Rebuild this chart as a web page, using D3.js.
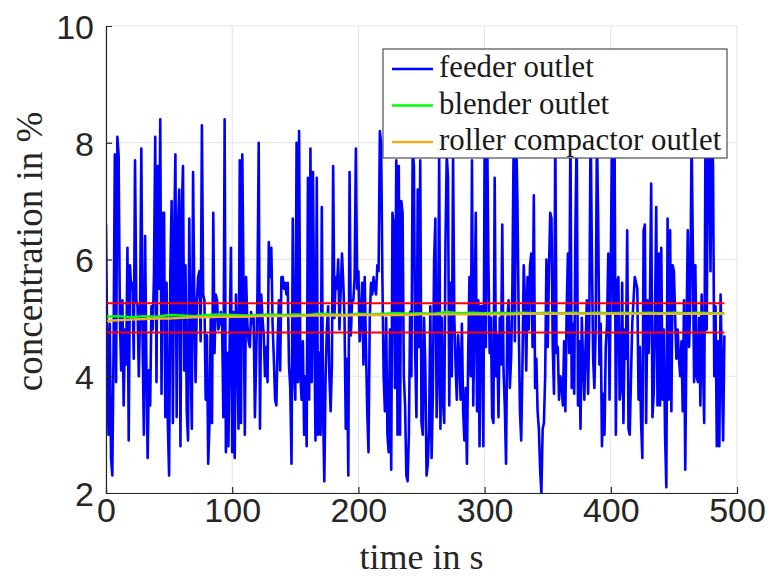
<!DOCTYPE html>
<html>
<head>
<meta charset="utf-8">
<script src="https://cdn.jsdelivr.net/npm/d3@7"></script>
<style>
  html, body { margin: 0; padding: 0; background: #fff; }
  svg { display: block; }
</style>
</head>
<body>
<svg id="chart" width="770" height="580"></svg>
<script>
// Feeder outlet concentration, one sample per second (t = 0 … 490 s), in %
const feederOutlet = [
  6.6,4.4,3.0,4.9,2.6,2.3,4.5,7.8,3.9,8.1,
  7.8,5.0,4.1,5.3,3.5,4.8,4.2,6.2,2.9,5.9,
  5.5,5.6,4.3,7.7,5.3,5.2,4.0,5.1,7.9,4.6,
  3.0,6.4,4.2,2.6,4.1,3.5,5.2,4.8,5.7,8.1,
  3.9,7.6,5.5,8.4,3.7,6.8,6.8,3.3,5.6,3.2,
  2.3,5.8,7.0,3.2,6.4,7.8,3.3,6.5,7.2,2.8,
  6.8,7.6,4.1,5.9,3.4,2.9,6.7,4.4,3.1,7.5,
  5.2,3.9,5.3,5.7,5.8,4.6,8.3,5.4,5.3,3.6,
  4.7,2.5,3.2,5.0,3.2,6.8,4.4,5.4,5.3,4.8,
  4.9,5.1,4.9,3.3,8.4,2.7,4.4,2.8,4.6,6.2,
  2.7,5.1,2.6,5.4,4.6,3.1,7.7,3.2,7.8,5.5,
  3.0,5.7,4.9,4.6,4.5,5.1,4.9,5.0,3.3,4.3,
  5.4,8.0,3.1,5.4,5.0,4.7,4.0,4.5,3.9,6.3,
  5.7,6.2,4.9,4.3,3.6,3.5,4.6,5.3,4.1,5.7,
  5.7,5.5,5.6,5.4,5.6,4.2,3.8,2.5,6.7,4.1,
  3.6,8.0,3.9,8.2,4.0,3.6,4.6,3.0,4.0,2.8,
  7.4,3.6,7.9,3.9,7.5,5.0,2.9,7.4,3.0,4.4,
  3.0,6.9,3.4,2.2,4.0,4.8,5.2,4.0,3.4,4.2,
  7.6,5.0,5.7,5.5,6.0,4.8,5.5,6.1,5.6,5.0,
  3.1,4.3,2.3,7.5,4.7,5.3,5.3,5.7,7.9,5.5,
  5.8,4.6,5.0,5.6,4.2,5.7,4.5,3.4,2.7,5.0,
  5.6,5.4,5.7,5.5,5.4,5.9,5.8,8.2,8.0,5.7,
  4.0,3.4,5.0,3.0,2.7,4.8,2.4,6.8,6.6,3.8,
  7.7,3.0,7.6,3.0,7.0,6.8,4.0,3.5,2.3,2.2,
  3.0,5.1,4.0,7.9,7.6,4.4,3.3,7.2,4.5,7.7,
  3.2,3.0,5.0,4.2,2.3,2.5,3.1,5.2,2.6,3.7,
  6.0,6.7,3.3,4.0,7.8,3.1,5.0,3.6,3.2,6.3,
  7.8,7.4,3.5,5.6,4.0,7.8,5.0,4.2,3.6,4.7,
  4.3,3.6,4.9,3.4,2.9,3.8,2.5,4.4,5.7,4.0,
  7.7,3.5,5.0,6.8,3.4,5.3,2.8,5.2,5.2,2.8,
  7.9,4.5,8.3,6.0,4.4,5.0,3.3,3.2,7.4,4.0,
  4.7,3.3,5.0,4.2,6.6,4.1,3.5,2.5,5.0,5.3,
  3.8,4.3,5.5,8.0,4.6,8.2,7.0,5.0,3.4,2.9,
  4.2,5.9,5.3,4.1,5.7,4.8,5.9,6.1,4.5,7.1,
  3.8,4.3,3.4,3.1,2.4,2.0,3.1,3.2,4.0,6.0,
  4.5,5.8,6.8,6.7,4.5,3.7,8.2,4.4,4.5,3.6,
  4.0,3.9,3.5,4.6,3.4,5.1,6.1,4.4,8.3,3.8,
  4.9,3.7,6.6,8.2,3.5,4.6,3.1,5.0,4.3,3.6,
  4.5,5.3,3.7,5.0,8.4,6.1,4.3,3.8,4.8,8.2,
  6.7,4.2,4.9,2.8,3.7,3.0,4.5,4.9,6.1,3.6,
  5.9,8.3,5.1,8.0,3.0,5.6,5.7,3.6,3.8,5.6,
  3.2,4.8,4.3,6.5,3.1,3.0,4.0,4.9,5.3,5.7,
  5.6,5.5,3.6,4.5,3.2,2.6,6.5,6.6,3.2,5.3,
  4.4,5.2,7.3,3.3,3.7,5.0,6.9,3.5,6.1,3.5,
  6.2,3.6,4.8,3.0,2.1,6.7,3.6,6.5,3.4,5.9,
  5.8,5.0,4.3,4.8,4.3,4.0,4.6,3.4,5.3,2.4,
  4.8,6.5,4.5,5.3,8.2,6.2,3.9,5.9,4.0,3.9,
  5.0,3.5,5.4,4.3,3.2,8.1,4.8,8.3,8.0,5.8,
  8.4,7.6,4.0,5.2,2.8,4.6,2.8,5.4,4.2,2.9,
  4.7
];
const feederStep = 1; // s between feeder samples

// Blender and roller compactor outlet concentrations, every 10 s (t = 0 … 490 s)
const blenderOutlet = [
  5.02,5.03,5.01,5.03,5.02,5.05,5.04,5.03,5.05,5.06,
  5.05,5.04,5.05,5.06,5.05,5.06,5.05,5.07,5.06,5.05,
  5.07,5.06,5.07,5.08,5.07,5.08,5.07,5.10,5.08,5.09,
  5.08,5.09,5.08,5.09,5.08,5.09,5.08,5.09,5.08,5.09,
  5.08,5.09,5.08,5.09,5.08,5.09,5.08,5.09,5.08,5.08
];
const rollerOutlet = [
  4.95,4.96,4.97,4.98,4.99,4.99,5.00,5.01,5.01,5.02,
  5.02,5.02,5.03,5.03,5.03,5.03,5.04,5.04,5.04,5.04,
  5.05,5.05,5.05,5.05,5.05,5.06,5.06,5.06,5.06,5.06,
  5.06,5.06,5.06,5.07,5.07,5.07,5.07,5.07,5.07,5.07,
  5.07,5.07,5.07,5.07,5.07,5.07,5.07,5.07,5.07,5.07
];
const slowStep = 10; // s between blender / roller samples

// Acceptance limits (%)
const limitValues = [5.25, 4.75];
const limitSpan = [0, 490];

// Axes
const xDomain = [0, 500];
const yDomain = [2, 10];
const xTicks = [0, 100, 200, 300, 400, 500];
const yTicks = [2, 4, 6, 8, 10];

const seriesNames = ["feeder outlet", "blender outlet", "roller compactor outlet"];
const seriesColors = ["#0000ff", "#00ff00", "#edb120"];
const limitColor = "#ff0000";

const xLabel = "time in s";
const yLabel = "concentration in %";

// ---- layout
const plot = { left: 106, top: 26, right: 737, bottom: 493 };
const svg = d3.select("#chart");

const x = d3.scaleLinear().domain(xDomain).range([plot.left, plot.right]);
const y = d3.scaleLinear().domain(yDomain).range([plot.bottom, plot.top]);

const axisColor = "#262626";
const gridColor = "#e3e3e3";
const tickFont = "'Liberation Sans', Arial, Helvetica, sans-serif";
const serifFont = "'Liberation Serif', 'Times New Roman', serif";

// grid
const grid = svg.append("g").attr("class", "grid");
grid.selectAll("line.gx").data(xTicks).join("line")
  .attr("x1", d => x(d)).attr("x2", d => x(d))
  .attr("y1", plot.top).attr("y2", plot.bottom)
  .attr("stroke", gridColor).attr("stroke-width", 1);
grid.selectAll("line.gy").data(yTicks).join("line")
  .attr("x1", plot.left).attr("x2", plot.right)
  .attr("y1", d => y(d)).attr("y2", d => y(d))
  .attr("stroke", gridColor).attr("stroke-width", 1);

// clip to plot area
svg.append("defs").append("clipPath").attr("id", "plotClip")
  .append("rect")
  .attr("x", plot.left).attr("y", plot.top)
  .attr("width", plot.right - plot.left).attr("height", plot.bottom - plot.top);

const data = svg.append("g").attr("clip-path", "url(#plotClip)");

const line = d3.line().x(d => x(d[0])).y(d => y(d[1]));

const feederPts = feederOutlet.map((v, i) => [i * feederStep, v]);
const blenderPts = blenderOutlet.map((v, i) => [i * slowStep, v]);
const rollerPts = rollerOutlet.map((v, i) => [i * slowStep, v]);

data.append("path").datum(feederPts)
  .attr("d", line).attr("fill", "none")
  .attr("stroke", seriesColors[0]).attr("stroke-width", 2.6)
  .attr("stroke-linejoin", "round");

data.append("path").datum(blenderPts)
  .attr("d", line).attr("fill", "none")
  .attr("stroke", seriesColors[1]).attr("stroke-width", 2.4);

data.append("path").datum(rollerPts)
  .attr("d", line).attr("fill", "none")
  .attr("stroke", seriesColors[2]).attr("stroke-width", 2.4);

data.selectAll("line.limit").data(limitValues).join("line")
  .attr("class", "limit")
  .attr("x1", x(limitSpan[0])).attr("x2", x(limitSpan[1]))
  .attr("y1", d => y(d)).attr("y2", d => y(d))
  .attr("stroke", limitColor).attr("stroke-width", 2);

// axes
const xAxis = d3.axisBottom(x).tickValues(xTicks).tickSize(-6).tickPadding(12)
  .tickFormat(d3.format("d"));
const yAxis = d3.axisLeft(y).tickValues(yTicks).tickSize(-6).tickPadding(12)
  .tickFormat(d3.format("d"));

const gx = svg.append("g").attr("transform", `translate(0,${plot.bottom})`).call(xAxis);
const gy = svg.append("g").attr("transform", `translate(${plot.left},0)`).call(yAxis);

[gx, gy].forEach(g => {
  g.select(".domain").attr("stroke", axisColor).attr("stroke-width", 1.2);
  g.selectAll(".tick line").attr("stroke", axisColor).attr("stroke-width", 1.2);
  g.selectAll(".tick text")
    .attr("fill", axisColor)
    .style("font-family", tickFont)
    .style("font-size", "34px");
});
gx.selectAll(".tick line").filter(d => d === 0 || d === 500).remove();
gy.selectAll(".tick line").filter(d => d === 2 || d === 10).remove();
gx.selectAll(".tick text").attr("dy", "0.72em").attr("y", 5);
gy.selectAll(".tick text").attr("x", -12).attr("dy", "0.36em");

// axis labels
svg.append("text")
  .attr("x", (plot.left + plot.right) / 2).attr("y", 569)
  .attr("text-anchor", "middle")
  .attr("fill", axisColor)
  .style("font-family", serifFont).style("font-size", "36px")
  .text(xLabel);

svg.append("text")
  .attr("transform", `translate(42,${(plot.top + plot.bottom) / 2 - 8}) rotate(-90)`)
  .attr("text-anchor", "middle")
  .attr("fill", axisColor)
  .style("font-family", serifFont).style("font-size", "37px")
  .text(yLabel);

// legend
const legend = svg.append("g").attr("class", "legend");
const lg = { x: 383, y: 49, w: 344, h: 109 };
legend.append("rect")
  .attr("x", lg.x).attr("y", lg.y).attr("width", lg.w).attr("height", lg.h)
  .attr("fill", "#fff").attr("stroke", "#4d4d4d").attr("stroke-width", 1.2);

const rows = legend.selectAll("g.row").data(seriesNames).join("g")
  .attr("class", "row")
  .attr("transform", (d, i) => `translate(${lg.x},${lg.y + 20 + i * 36.5})`);
rows.append("line")
  .attr("x1", 9).attr("x2", 50).attr("y1", 0).attr("y2", 0)
  .attr("stroke", (d, i) => seriesColors[i]).attr("stroke-width", 2.4);
rows.append("text")
  .attr("x", 56).attr("y", 8)
  .attr("fill", "#1a1a1a")
  .style("font-family", serifFont).style("font-size", "30.8px")
  .text(d => d);
</script>
</body>
</html>
